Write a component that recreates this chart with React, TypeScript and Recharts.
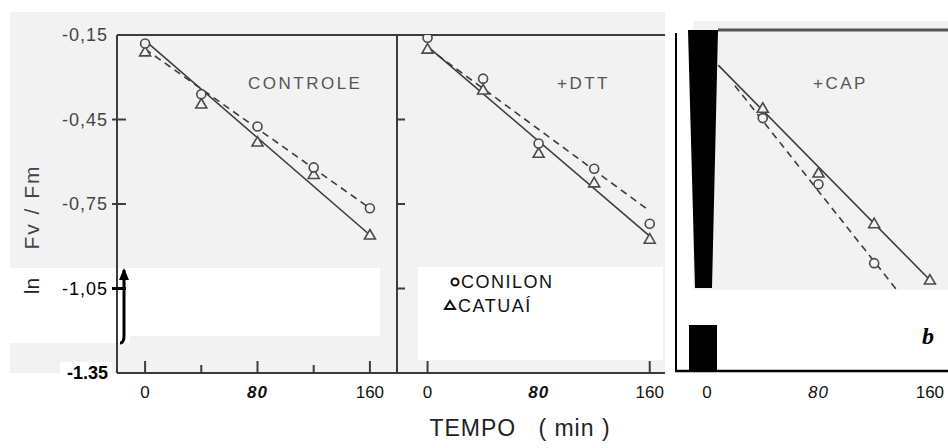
import { ScatterChart, Scatter, XAxis, YAxis, ReferenceLine } from "recharts";

// eixo Y comum (ln Fv/Fm)
const yTicks = [-0.15, -0.45, -0.75, -1.05, -1.35];
const yTickLabels = ["-0,15", "-0,45", "-0,75", "-1,05", "-1.35"];
const xTicks = [0, 40, 80, 120, 160];
const xTickLabels = ["0", "", "80", "", "160"];

const tempos = [0, 40, 80, 120, 160];
const fitTempos = [0, 160];

// CONTROLE
const controleConilon = [-0.18, -0.36, -0.475, -0.62, -0.765];
const controleCatuai = [-0.21, -0.395, -0.53, -0.645, -0.86];
const controleConilonFit = [-0.2, -0.765];
const controleCatuaiFit = [-0.17, -0.86];

// +DTT
const dttConilon = [-0.16, -0.305, -0.535, -0.625, -0.82];
const dttCatuai = [-0.2, -0.345, -0.57, -0.675, -0.875];
const dttConilonFit = [-0.195, -0.775];
const dttCatuaiFit = [-0.19, -0.864];

// +CAP (pontos em t=0 escondidos na figura original)
const capConilonTempos = [40, 80, 120];
const capConilon = [-0.445, -0.68, -0.96];
const capCatuaiTempos = [40, 80, 120, 160];
const capCatuai = [-0.41, -0.64, -0.82, -1.02];
const capConilonFitTempos = [20, 137];
const capConilonFit = [-0.33, -1.06];
const capCatuaiFitTempos = [8, 160];
const capCatuaiFit = [-0.257, -1.02];

const pts = (ts: number[], vs: number[]) => ts.map((t, i) => ({ t, v: vs[i] }));

const ink = "#3c3c3c";
const bg = "#f2f2f2";

const CircleMark = (p: any) =>
    p.cx == null ? <g /> : (
        <circle cx={p.cx} cy={p.cy} r={4.5} fill={bg} stroke="#4a4a4a" strokeWidth={1.6} />
    );

const TriangleMark = (p: any) =>
    p.cx == null ? <g /> : (
        <polygon
            points={`${p.cx},${p.cy - 5.5} ${p.cx + 5.5},${p.cy + 4} ${p.cx - 5.5},${p.cy + 4}`}
            fill={bg}
            stroke="#4a4a4a"
            strokeWidth={1.6}
        />
    );

const NoMark = () => <g />;

const labelFor = (v: number) => {
    const i = yTicks.findIndex((t) => Math.abs(t - v) < 1e-6);
    return i >= 0 ? yTickLabels[i] : "";
};

// ticks do painel 1, com rótulos
const yTickMain = (p: any) => {
    const v = p.payload.value;
    const last = Math.abs(v + 1.35) < 1e-6;
    const black = last || Math.abs(v + 1.05) < 1e-6;
    const inner = v < -0.2 && v > -1.3;
    return (
        <g>
            {inner && (
                <line x1={p.x - 5} x2={p.x + 9} y1={p.y} y2={p.y} stroke={black ? "#000" : ink} strokeWidth={black ? 3 : 2} />
            )}
            <text
                x={p.x - 9}
                y={p.y}
                textAnchor="end"
                dominantBaseline="central"
                fontSize={18}
                fontWeight={last ? 700 : 400}
                letterSpacing={last ? 0 : 1}
                fill={black ? "#000" : "#444"}
            >
                {labelFor(v)}
            </text>
        </g>
    );
};

// ticks do painel 2, só marcas
const yTickInner = (p: any) => {
    const v = p.payload.value;
    if (v > -0.2 || v < -1.3) return <g />;
    return <line x1={p.x} x2={p.x + 8} y1={p.y} y2={p.y} stroke={ink} strokeWidth={2} />;
};

const makeXTick = (marks: number[], boldMid: boolean) => (p: any) => {
    const v = p.payload.value;
    const i = xTicks.indexOf(v);
    const label = xTickLabels[i];
    const hasMark = marks.includes(v);
    const big = v % 80 === 0;
    return (
        <g>
            {hasMark && (
                <line x1={p.x} x2={p.x} y1={p.y} y2={p.y - (big ? 12 : 8)} stroke={ink} strokeWidth={2} />
            )}
            {label && (
                <text
                    x={p.x}
                    y={p.y + 19}
                    textAnchor="middle"
                    dominantBaseline="central"
                    fontSize={17}
                    fontWeight={v === 80 && boldMid ? 700 : 400}
                    fontStyle={v === 80 ? "italic" : "normal"}
                    letterSpacing={v === 80 ? 1 : 0}
                    fill="#111"
                >
                    {label}
                </text>
            )}
        </g>
    );
};

interface PanelProps {
    left: number;
    yAxisWidth: number;
    plotWidth: number;
    xDomain: [number, number];
    yTick: any;
    xMarks: number[];
    boldMid: boolean;
    showAxes: boolean;
    topBorder: boolean;
    conilon: { t: number; v: number }[];
    catuai: { t: number; v: number }[];
    conilonFit: { t: number; v: number }[];
    catuaiFit: { t: number; v: number }[];
}

const Panel = (props: PanelProps) => {
    const { left, yAxisWidth, plotWidth, xDomain, yTick, xMarks, showAxes, topBorder } = props;
    const axisLine = showAxes ? { stroke: ink, strokeWidth: 2 } : false;
    return (
        <div style={{ position: "absolute", left, top: 0 }}>
            <ScatterChart
                width={yAxisWidth + plotWidth}
                height={420}
                margin={{ top: 35, right: 0, bottom: 17, left: 0 }}
            >
                <XAxis
                    type="number"
                    dataKey="t"
                    domain={xDomain}
                    ticks={xTicks}
                    interval={0}
                    allowDataOverflow
                    height={30}
                    axisLine={axisLine}
                    tickLine={false}
                    tickSize={0}
                    tickMargin={0}
                    tick={makeXTick(xMarks, props.boldMid)}
                />
                <YAxis
                    type="number"
                    dataKey="v"
                    domain={[-1.35, -0.15]}
                    ticks={yTicks}
                    interval={0}
                    allowDataOverflow
                    width={yAxisWidth}
                    axisLine={axisLine}
                    tickLine={false}
                    tickSize={0}
                    tickMargin={0}
                    tick={yTick}
                />
                {topBorder && <ReferenceLine y={-0.15} stroke={ink} strokeWidth={2} />}
                <Scatter
                    name="Catuaí (ajuste)"
                    data={props.catuaiFit}
                    line={{ stroke: ink, strokeWidth: 1.6 }}
                    shape={NoMark}
                    isAnimationActive={false}
                />
                <Scatter
                    name="Conilon (ajuste)"
                    data={props.conilonFit}
                    line={{ stroke: ink, strokeWidth: 1.6, strokeDasharray: "7 5" }}
                    shape={NoMark}
                    isAnimationActive={false}
                />
                <Scatter name="Catuaí" data={props.catuai} shape={TriangleMark} isAnimationActive={false} />
                <Scatter name="Conilon" data={props.conilon} shape={CircleMark} isAnimationActive={false} />
            </ScatterChart>
        </div>
    );
};

export default function App() {
    return (
        <div
            style={{
                position: "fixed",
                left: 0,
                top: 0,
                width: 948,
                height: 448,
                background: "#fff",
                overflow: "hidden",
                fontFamily: '"Liberation Sans", Arial, sans-serif',
            }}
        >
            {/* fundo cinza da digitalização */}
            <div style={{ position: "absolute", left: 10, top: 12, width: 655, height: 361, background: bg }} />
            <div style={{ position: "absolute", left: 10, top: 268, width: 370, height: 68, background: "#fff" }} />
            <div style={{ position: "absolute", left: 10, top: 268, width: 120, height: 75, background: "#fff" }} />
            <div style={{ position: "absolute", left: 60, top: 362, width: 52, height: 20, background: "#fff" }} />
            <div style={{ position: "absolute", left: 418, top: 267, width: 245, height: 93, background: "#fff" }} />
            <div style={{ position: "absolute", left: 693, top: 21, width: 255, height: 269, background: bg }} />

            <Panel
                left={0}
                yAxisWidth={117}
                plotWidth={281}
                xDomain={[-20, 180]}
                yTick={yTickMain}
                xMarks={[0, 40, 80, 120, 160]}
                boldMid
                showAxes
                topBorder
                conilon={pts(tempos, controleConilon)}
                catuai={pts(tempos, controleCatuai)}
                conilonFit={pts(fitTempos, controleConilonFit)}
                catuaiFit={pts(fitTempos, controleCatuaiFit)}
            />
            <Panel
                left={387}
                yAxisWidth={10}
                plotWidth={268}
                xDomain={[-22, 171]}
                yTick={yTickInner}
                xMarks={[0, 160]}
                boldMid
                showAxes
                topBorder
                conilon={pts(tempos, dttConilon)}
                catuai={pts(tempos, dttCatuai)}
                conilonFit={pts(fitTempos, dttConilonFit)}
                catuaiFit={pts(fitTempos, dttCatuaiFit)}
            />
            <Panel
                left={665}
                yAxisWidth={10}
                plotWidth={273}
                xDomain={[-23, 173]}
                yTick={() => <g />}
                xMarks={[]}
                boldMid={false}
                showAxes={false}
                topBorder={false}
                conilon={pts(capConilonTempos, capConilon)}
                catuai={pts(capCatuaiTempos, capCatuai)}
                conilonFit={pts(capConilonFitTempos, capConilonFit)}
                catuaiFit={pts(capCatuaiFitTempos, capCatuaiFit)}
            />

            <svg
                width={948}
                height={448}
                style={{ position: "absolute", left: 0, top: 0, pointerEvents: "none" }}
            >
                {/* títulos dos painéis */}
                <text x={248} y={83} fontSize={17} letterSpacing={2.5} fill="#555" dominantBaseline="central">
                    CONTROLE
                </text>
                <text x={557} y={83} fontSize={17} letterSpacing={2.5} fill="#555" dominantBaseline="central">
                    +DTT
                </text>
                <text x={813} y={83} fontSize={17} letterSpacing={2.5} fill="#555" dominantBaseline="central">
                    +CAP
                </text>

                {/* legenda */}
                <circle cx={455} cy={282} r={3.5} fill="none" stroke="#111" strokeWidth={2} />
                <text x={461} y={282} fontSize={18} fill="#111" dominantBaseline="central" letterSpacing={1.5}>
                    CONILON
                </text>
                <polygon points="450,301 455,309 445,309" fill="none" stroke="#111" strokeWidth={2} />
                <text x={458} y={306} fontSize={18} fill="#111" dominantBaseline="central" letterSpacing={1.5}>
                    CATUAÍ
                </text>

                {/* traço do eixo no painel 1 */}
                <path d="M124 270 L124 336 Q124 343 120 343" fill="none" stroke="#000" strokeWidth={3} />
                <path d="M119 280 L124 268 L129 280 Z" fill="#000" />

                {/* eixos e borda do painel 3 */}
                <line x1={718} x2={948} y1={30} y2={30} stroke="#555" strokeWidth={3} />
                <line x1={676} x2={676} y1={33} y2={372} stroke="#000" strokeWidth={2} />
                <line x1={675} x2={948} y1={371} y2={371} stroke="#000" strokeWidth={2.5} />

                {/* manchas pretas da figura */}
                <polygon points="688,30 718,30 712,288 695,288" fill="#000" />
                <rect x={689} y={325} width={28} height={47} fill="#000" />

                <text
                    x={922}
                    y={344}
                    fontSize={24}
                    fontWeight={700}
                    fontStyle="italic"
                    fontFamily='"Liberation Serif", serif'
                    fill="#000"
                >
                    b
                </text>

                <text
                    x={520}
                    y={428}
                    fontSize={23}
                    letterSpacing={1}
                    textAnchor="middle"
                    dominantBaseline="central"
                    fill="#222"
                    style={{ whiteSpace: "pre" }}
                >
                    {"TEMPO   ( min )"}
                </text>

                <text
                    x={0}
                    y={0}
                    transform="translate(31 207) rotate(-90)"
                    fontSize={21}
                    letterSpacing={2}
                    textAnchor="middle"
                    dominantBaseline="central"
                    fill="#444"
                    style={{ whiteSpace: "pre" }}
                >
                    {"Fv / Fm"}
                </text>
                <text
                    x={0}
                    y={0}
                    transform="translate(31 286) rotate(-90)"
                    fontSize={21}
                    textAnchor="middle"
                    dominantBaseline="central"
                    fill="#222"
                >
                    ln
                </text>
            </svg>
        </div>
    );
}
